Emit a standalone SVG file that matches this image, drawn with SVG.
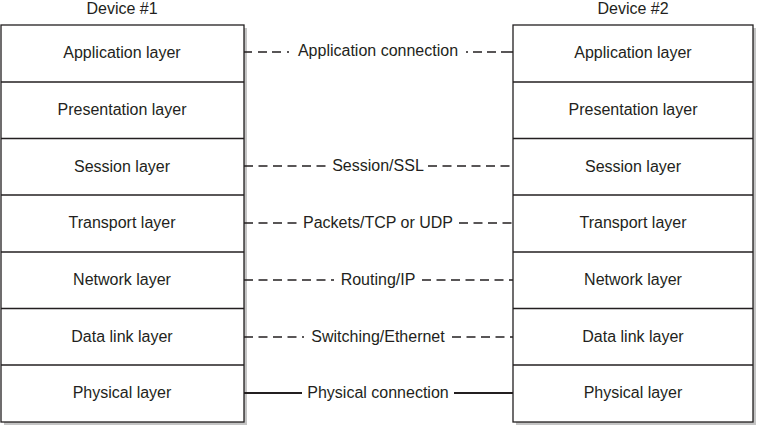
<svg xmlns="http://www.w3.org/2000/svg" width="760" height="427" viewBox="0 0 760 427">
<style>
.box{fill:#fff;stroke:#231f20;stroke-width:1.3}
.sh{fill:#c4c4c4}
.sep{stroke:#231f20;stroke-width:1.3}
.t{font-family:"Liberation Sans","Open Sans",sans-serif;font-size:16px;fill:#231f20;text-anchor:middle}
.d{stroke:#231f20;stroke-width:1.3;stroke-dasharray:9 5.5;fill:none}
.a{stroke:#231f20;stroke-width:1.3;fill:none}
.s{stroke:#231f20;stroke-width:2;fill:none}
</style>
<text class="t" x="122" y="14">Device #1</text>
<text class="t" x="633" y="14">Device #2</text>
<g id="device1">
<rect class="sh" x="4" y="28" width="243" height="397"/>
<rect class="box" x="1" y="25" width="243" height="397"/>
<line class="sep" x1="1" y1="82" x2="244" y2="82"/>
<line class="sep" x1="1" y1="138.5" x2="244" y2="138.5"/>
<line class="sep" x1="1" y1="195" x2="244" y2="195"/>
<line class="sep" x1="1" y1="252" x2="244" y2="252"/>
<line class="sep" x1="1" y1="308.5" x2="244" y2="308.5"/>
<line class="sep" x1="1" y1="365" x2="244" y2="365"/>
</g>
<g id="d1-app"><text class="t" x="122" y="58">Application layer</text></g>
<g id="d1-pres"><text class="t" x="122" y="115">Presentation layer</text></g>
<g id="d1-sess"><text class="t" x="122" y="172">Session layer</text></g>
<g id="d1-trans"><text class="t" x="122" y="228">Transport layer</text></g>
<g id="d1-net"><text class="t" x="122" y="285">Network layer</text></g>
<g id="d1-dl"><text class="t" x="122" y="342">Data link layer</text></g>
<g id="d1-phys"><text class="t" x="122" y="398">Physical layer</text></g>
<g id="device2">
<rect class="sh" x="516" y="28" width="240" height="397"/>
<rect class="box" x="513" y="25" width="240" height="397"/>
<line class="sep" x1="513" y1="82" x2="753" y2="82"/>
<line class="sep" x1="513" y1="138.5" x2="753" y2="138.5"/>
<line class="sep" x1="513" y1="195" x2="753" y2="195"/>
<line class="sep" x1="513" y1="252" x2="753" y2="252"/>
<line class="sep" x1="513" y1="308.5" x2="753" y2="308.5"/>
<line class="sep" x1="513" y1="365" x2="753" y2="365"/>
</g>
<g id="d2-app"><text class="t" x="633" y="58">Application layer</text></g>
<g id="d2-pres"><text class="t" x="633" y="115">Presentation layer</text></g>
<g id="d2-sess"><text class="t" x="633" y="172">Session layer</text></g>
<g id="d2-trans"><text class="t" x="633" y="228">Transport layer</text></g>
<g id="d2-net"><text class="t" x="633" y="285">Network layer</text></g>
<g id="d2-dl"><text class="t" x="633" y="342">Data link layer</text></g>
<g id="d2-phys"><text class="t" x="633" y="398">Physical layer</text></g>
<g id="connectors">
<path class="a" d="M244 52H252M258 52H267M272 52H281M287 52H289M466 52H468M473 52H482M487 52H496M501 52H513"/>
<text class="t" x="378" y="56">Application connection</text>
<path class="d" d="M244 166H328M428 166H513"/>
<text class="t" x="378" y="171">Session/SSL</text>
<path class="d" d="M244 223H297M459 223H513"/>
<text class="t" x="378" y="228">Packets/TCP or UDP</text>
<path class="d" d="M244 280H334M422 280H513"/>
<text class="t" x="378" y="285">Routing/IP</text>
<path class="d" d="M244 337H304M452 337H513"/>
<text class="t" x="378" y="342">Switching/Ethernet</text>
<path class="s" d="M244 393H302M454 393H513"/>
<text class="t" x="378" y="398">Physical connection</text>
</g>
</svg>
